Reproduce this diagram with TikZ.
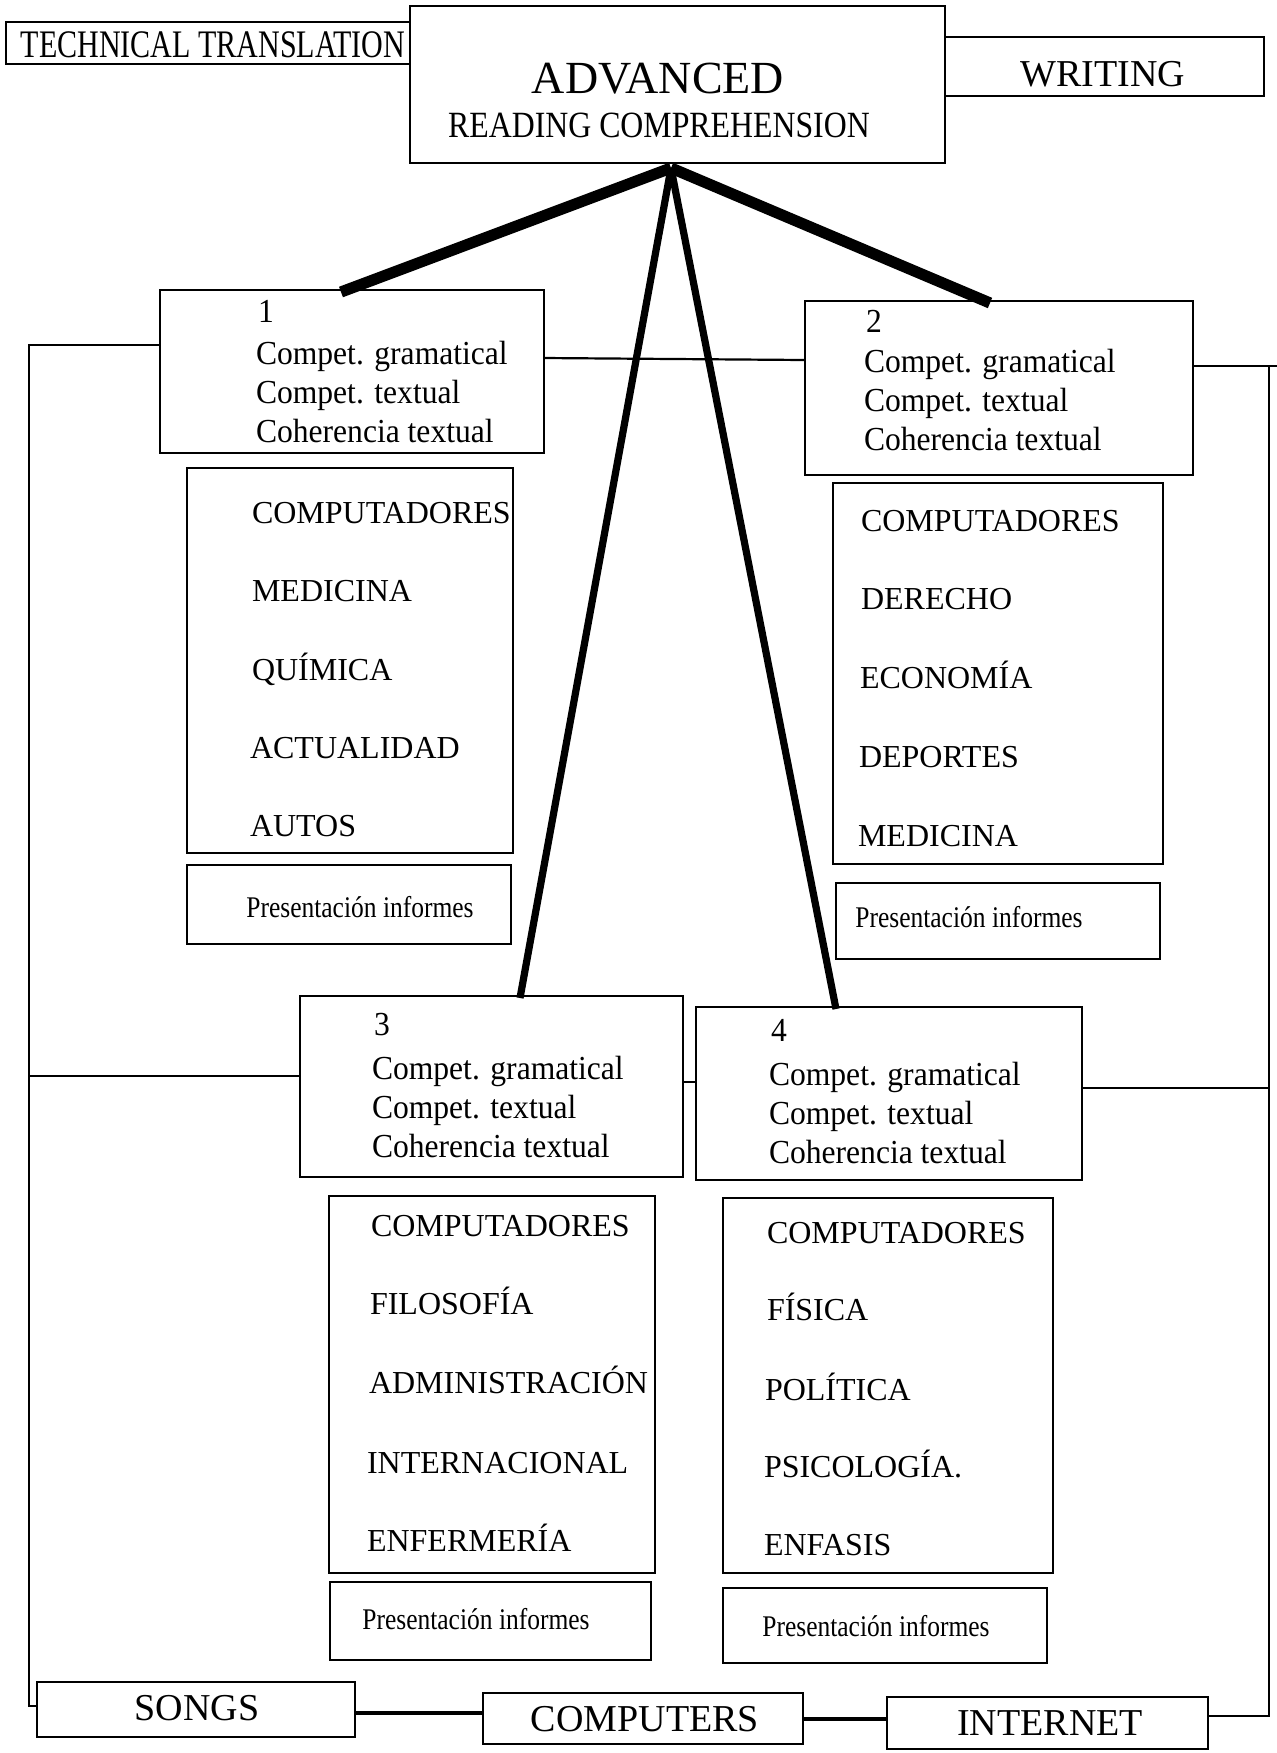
\documentclass[tikz,border=0pt]{standalone}
\usepackage{fontspec}
\setmainfont{Liberation Serif}
\newfontfamily\tmsTT[FakeStretch=0.77]{Liberation Serif}
\newfontfamily\tmsRC[FakeStretch=0.86]{Liberation Serif}
\newfontfamily\tmsPR[FakeStretch=0.85]{Liberation Serif}
\newfontfamily\tmsBX[FakeStretch=0.94]{Liberation Serif}
\tikzset{
  bx/.style={draw, line width=1.35pt, rectangle, inner sep=0pt, outer sep=0pt},
  tx/.style={inner sep=0pt, outer sep=0pt, anchor=base west},
  ctx/.style={inner sep=0pt, outer sep=0pt, anchor=base},
  boxtext/.style={tx, font=\tmsBX\fontsize{16.8}{19.5}\selectfont},
  itemtext/.style={tx, font=\fontsize{16}{19}\selectfont},
  prestext/.style={ctx, font=\tmsPR\fontsize{15}{18}\selectfont},
  bigtext/.style={ctx, font=\fontsize{19}{22}\selectfont},
  frame/.style={line width=1.1pt},
  heavy/.style={line width=5.6pt},
  medium/.style={line width=3.6pt},
  link/.style={line width=2pt},
}
\newcommand{\mybox}[5]{\node[bx, minimum width={(#4-#2)*0.5pt}, minimum height={(#5-#3)*0.5pt}] (#1) at ({(#2+#4)/2},{(#3+#5)/2}) {};}
\begin{document}
\begin{tikzpicture}[x=0.5pt,y=-0.5pt]
\fill[white] (0,0) rectangle (1277,1753);
\useasboundingbox (0,0) rectangle (1277,1753);

% boxes
\mybox{tt}{6}{22}{410}{64}
\mybox{adv}{410}{6}{945}{163}
\mybox{wr}{945}{37}{1264}{96}
\mybox{b1}{160}{290}{544}{453}
\mybox{l1}{187}{468}{513}{853}
\mybox{p1}{187}{865}{511}{944}
\mybox{b2}{805}{301}{1193}{475}
\mybox{l2}{833}{483}{1163}{864}
\mybox{p2}{836}{883}{1160}{959}
\mybox{b3}{300}{996}{683}{1177}
\mybox{l3}{329}{1196}{655}{1573}
\mybox{p3}{330}{1582}{651}{1660}
\mybox{b4}{696}{1007}{1082}{1180}
\mybox{l4}{723}{1198}{1053}{1573}
\mybox{p4}{723}{1588}{1047}{1663}
\mybox{songs}{37}{1682}{355}{1737}
\mybox{comp}{483}{1693}{803}{1744}
\mybox{inet}{887}{1697}{1208}{1749}

% titles
\node[ctx, font=\tmsTT\fontsize{19.5}{22}\selectfont] (ttt) at (213,57) {TECHNICAL TRANSLATION};
\node[ctx, font=\fontsize{23}{26}\selectfont] (advt) at (658,93) {ADVANCED};
\node[ctx, font=\tmsRC\fontsize{18.5}{22}\selectfont] (rct) at (659,137) {READING COMPREHENSION};
\node[bigtext] (wrt) at (1103,86) {WRITING};

% box 1
\node[boxtext] (b1n) at (258,322) {1};
\node[boxtext] (b1a) at (256,364) {Compet. gramatical};
\node[boxtext] (b1b) at (256,403) {Compet. textual};
\node[boxtext] (b1c) at (256,442) {Coherencia textual};
% box 2
\node[boxtext] (b2n) at (866,332) {2};
\node[boxtext] (b2a) at (864,372) {Compet. gramatical};
\node[boxtext] (b2b) at (864,411) {Compet. textual};
\node[boxtext] (b2c) at (864,450) {Coherencia textual};
% box 3
\node[boxtext] (b3n) at (374,1035) {3};
\node[boxtext] (b3a) at (372,1079) {Compet. gramatical};
\node[boxtext] (b3b) at (372,1118) {Compet. textual};
\node[boxtext] (b3c) at (372,1157) {Coherencia textual};
% box 4
\node[boxtext] (b4n) at (771,1041) {4};
\node[boxtext] (b4a) at (769,1085) {Compet. gramatical};
\node[boxtext] (b4b) at (769,1124) {Compet. textual};
\node[boxtext] (b4c) at (769,1163) {Coherencia textual};

% lists
\node[itemtext] (l1a) at (252,523) {COMPUTADORES};
\node[itemtext] (l1b) at (252,601) {MEDICINA};
\node[itemtext] (l1c) at (252,680) {QUÍMICA};
\node[itemtext] (l1d) at (250,758) {ACTUALIDAD};
\node[itemtext] (l1e) at (250,836) {AUTOS};

\node[itemtext] (l2a) at (861,531) {COMPUTADORES};
\node[itemtext] (l2b) at (861,609) {DERECHO};
\node[itemtext] (l2c) at (860,688) {ECONOMÍA};
\node[itemtext] (l2d) at (859,767) {DEPORTES};
\node[itemtext] (l2e) at (858,846) {MEDICINA};

\node[itemtext] (l3a) at (371,1236) {COMPUTADORES};
\node[itemtext] (l3b) at (370,1314) {FILOSOFÍA};
\node[itemtext] (l3c) at (369,1393) {ADMINISTRACIÓN};
\node[itemtext] (l3d) at (367,1473) {INTERNACIONAL};
\node[itemtext] (l3e) at (367,1551) {ENFERMERÍA};

\node[itemtext] (l4a) at (767,1243) {COMPUTADORES};
\node[itemtext] (l4b) at (767,1320) {FÍSICA};
\node[itemtext] (l4c) at (765,1400) {POLÍTICA};
\node[itemtext] (l4d) at (764,1477) {PSICOLOGÍA.};
\node[itemtext] (l4e) at (764,1555) {ENFASIS};

% presentacion
\node[prestext] (p1t) at (360,917) {Presentación informes};
\node[prestext] (p2t) at (969,927) {Presentación informes};
\node[prestext] (p3t) at (476,1629) {Presentación informes};
\node[prestext] (p4t) at (876,1636) {Presentación informes};

% bottom labels
\node[bigtext] (songst) at (197,1720) {SONGS};
\node[bigtext] (compt) at (645,1731) {COMPUTERS};
\node[bigtext] (inett) at (1050,1735) {INTERNET};

% coordinates for connectors
\coordinate (apex) at (671,168);
\coordinate (b1t) at (341,292);
\coordinate (b2t) at (990,303);
\coordinate (b3t) at (520,998);
\coordinate (b4t) at (836,1009);

\coordinate (b1l) at (160,345);
\coordinate (b1r) at (544,358);
\coordinate (b2l) at (805,360);
\coordinate (b2r) at (1193,366);
\coordinate (redge) at (1277,366);
\coordinate (fl1) at (29,345);
\coordinate (fl2) at (29,1706);
\coordinate (songsl) at (37,1706);
\coordinate (b3l) at (300,1076);
\coordinate (fl3) at (29,1076);
\coordinate (b3r) at (683,1082);
\coordinate (b4l) at (696,1082);
\coordinate (b4r) at (1082,1088);
\coordinate (fr4) at (1269,1088);
\coordinate (fr1) at (1269,366);
\coordinate (fr2) at (1269,1716);
\coordinate (inetr) at (1208,1716);
\coordinate (songsr) at (355,1713);
\coordinate (compl) at (483,1713);
\coordinate (compr) at (803,1719);
\coordinate (inetl) at (887,1719);

% hierarchy lines
\draw[heavy] (apex) -- (b1t);
\draw[heavy] (apex) -- (b2t);
\draw[medium] (apex) -- (b3t);
\draw[medium] (apex) -- (b4t);

% frame lines
\draw[frame] (b1r) -- (b2l);
\draw[frame] (b2r) -- (redge);
\draw[frame] (b1l) -- (fl1) -- (fl2) -- (songsl);
\draw[frame] (b3l) -- (fl3);
\draw[frame] (b3r) -- (b4l);
\draw[frame] (b4r) -- (fr4);
\draw[frame] (fr1) -- (fr2) -- (inetr);

% bottom links
\draw[link] (songsr) -- (compl);
\draw[link] (compr) -- (inetl);
\end{tikzpicture}
\end{document}
